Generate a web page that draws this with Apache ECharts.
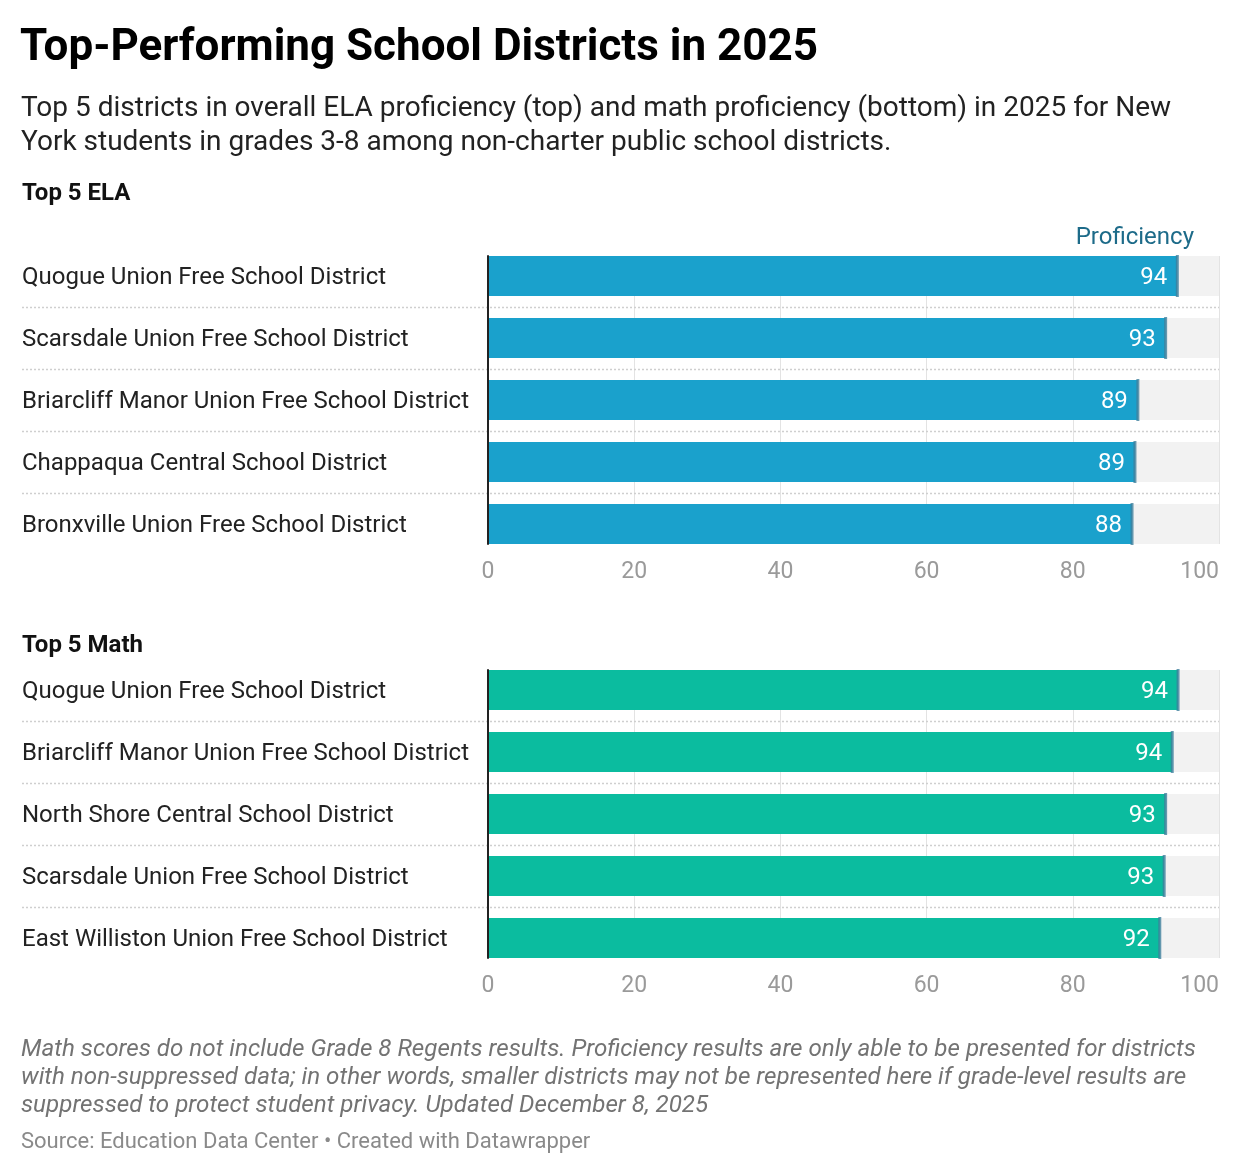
<!DOCTYPE html>
<html>
<head>
<meta charset="utf-8">
<title>Top-Performing School Districts in 2025</title>
<script src="https://cdn.jsdelivr.net/npm/echarts@6/dist/echarts.min.js"></script>
<style>
  html, body { margin: 0; padding: 0; background: #fff; }
  #chart { width: 1240px; height: 1174px; }
</style>
</head>
<body>
<div id="chart"></div>
<script>
// values (bar ends), labels are rounded
const elaDistricts = [
  "Quogue Union Free School District",
  "Scarsdale Union Free School District",
  "Briarcliff Manor Union Free School District",
  "Chappaqua Central School District",
  "Bronxville Union Free School District"
];
const elaValues = [94.3, 92.7, 88.9, 88.5, 88.1];

const mathDistricts = [
  "Quogue Union Free School District",
  "Briarcliff Manor Union Free School District",
  "North Shore Central School District",
  "Scarsdale Union Free School District",
  "East Williston Union Free School District"
];
const mathValues = [94.4, 93.6, 92.7, 92.5, 91.9];

const axisMin = 0, axisMax = 100, axisStep = 20;

const FONT = "Roboto";
const ELA_COLOR = "#1aa1cc";
const MATH_COLOR = "#0bbc9f";
const MARK_COLOR = "#3f7f9c";

const chart = echarts.init(document.getElementById("chart"), null, { renderer: "canvas" });

// one panel = grid for bars/labels (a) + grid for gridlines/ticks (b)
function panel(idx, top) {
  const a = 2 * idx, b = 2 * idx + 1;
  return {
    grids: [
      { left: 488, right: 21, top: top - 11, height: 310 },
      { left: 488, right: 21, top: top, height: 288 }
    ],
    xAxes: [
      { gridIndex: a, type: "value", min: axisMin, max: axisMax, interval: axisStep, show: false },
      {
        gridIndex: b, type: "value", min: axisMin, max: axisMax, interval: axisStep,
        axisLine: { show: false }, axisTick: { show: false },
        splitLine: { show: true, lineStyle: { color: "#e3e3e3", width: 1 } },
        axisLabel: { color: "#9a9a9a", fontSize: 23, fontFamily: FONT, margin: 17, alignMaxLabel: "right" }
      }
    ]
  };
}

function yAxesFor(idx, names) {
  const a = 2 * idx, b = 2 * idx + 1;
  return [
    {
      gridIndex: a, type: "category", data: names, inverse: true,
      axisLine: { show: false }, axisTick: { show: false }, splitLine: { show: false },
      axisLabel: {
        align: "left", margin: 466, fontSize: 24, color: "#222", fontFamily: FONT,
        formatter: v => "{n|" + v + "}",
        rich: { n: { fontSize: 24, color: "#222", fontFamily: FONT, padding: [3, 0, 0, 0] } }
      }
    },
    {
      gridIndex: b, type: "value", min: 0, max: 1, z: 5,
      axisLine: { show: true, lineStyle: { color: "#222", width: 2 } },
      axisTick: { show: false }, axisLabel: { show: false }, splitLine: { show: false }
    }
  ];
}

function barSeries(idx, values, color) {
  const a = 2 * idx;
  return [
    {
      type: "bar", xAxisIndex: a, yAxisIndex: a, data: values, barWidth: 40,
      itemStyle: { color: color },
      showBackground: true, backgroundStyle: { color: "#f2f2f2" },
      label: {
        show: true, position: "insideRight", distance: 10, offset: [0, 2],
        color: "#fff", fontSize: 24, fontFamily: FONT,
        formatter: p => Math.round(p.value)
      },
      silent: true
    },
    {
      type: "scatter", xAxisIndex: a, yAxisIndex: a,
      data: values.map((v, i) => [v, i]),
      symbol: "rect", symbolSize: [3, 42],
      itemStyle: { color: MARK_COLOR }, z: 4, silent: true
    }
  ];
}

const p0 = panel(0, 256);
const p1 = panel(1, 670);

const option = {
  animation: false,
  backgroundColor: "#fff",
  textStyle: { fontFamily: FONT },
  title: [
    { text: "Top-Performing School Districts in 2025", left: 20, top: 24, padding: 0,
      textStyle: { fontSize: 44, fontWeight: "bold", color: "#000", fontFamily: FONT, lineHeight: 50 } },
    { text: "Top 5 districts in overall ELA proficiency (top) and math proficiency (bottom) in 2025 for New\nYork students in grades 3-8 among non-charter public school districts.",
      left: 21, top: 92, padding: 0,
      textStyle: { fontSize: 28, fontWeight: "normal", color: "#222", fontFamily: FONT, lineHeight: 34 } },
    { text: "Top 5 ELA", left: 22, top: 180, padding: 0,
      textStyle: { fontSize: 24, fontWeight: "bold", color: "#111", fontFamily: FONT, lineHeight: 28 } },
    { text: "Proficiency", right: 46, top: 224, padding: 0,
      textStyle: { fontSize: 24, fontWeight: "normal", color: "#1d6b89", fontFamily: FONT, lineHeight: 28 } },
    { text: "Top 5 Math", left: 22, top: 632, padding: 0,
      textStyle: { fontSize: 24, fontWeight: "bold", color: "#111", fontFamily: FONT, lineHeight: 28 } },
    { text: "Math scores do not include Grade 8 Regents results. Proficiency results are only able to be presented for districts\nwith non-suppressed data; in other words, smaller districts may not be represented here if grade-level results are\nsuppressed to protect student privacy. Updated December 8, 2025",
      left: 21, top: 1036, padding: 0,
      textStyle: { fontSize: 24.2, fontStyle: "italic", fontWeight: "normal", color: "#737373", fontFamily: FONT, lineHeight: 28 } },
    { text: "Source: Education Data Center \u2022 Created with Datawrapper",
      left: 21, top: 1129, padding: 0,
      textStyle: { fontSize: 22, fontWeight: "normal", color: "#8a8a8a", fontFamily: FONT, lineHeight: 26 } }
  ],
  grid: [...p0.grids, ...p1.grids],
  xAxis: [...p0.xAxes, ...p1.xAxes],
  yAxis: [...yAxesFor(0, elaDistricts), ...yAxesFor(1, mathDistricts)],
  series: [...barSeries(0, elaValues, ELA_COLOR), ...barSeries(1, mathValues, MATH_COLOR)]
};

chart.setOption(option);

// dotted row separators, placed through the category axes
const seps = [];
[[0, elaDistricts], [2, mathDistricts]].forEach(([ax, names]) => {
  const xRight = chart.convertToPixel({ xAxisIndex: ax }, axisMax);
  for (let i = 0; i < names.length - 1; i++) {
    const y0 = chart.convertToPixel({ yAxisIndex: ax }, i);
    const y1 = chart.convertToPixel({ yAxisIndex: ax }, i + 1);
    const y = Math.round((y0 + y1) / 2) + 0.5;
    seps.push({
      type: "line", z: 1, silent: true,
      shape: { x1: 22, y1: y, x2: xRight, y2: y },
      style: { stroke: "#cfcfcf", lineWidth: 1.5, lineDash: [2, 2] }
    });
  }
});
chart.setOption({ graphic: seps });
</script>
</body>
</html>
